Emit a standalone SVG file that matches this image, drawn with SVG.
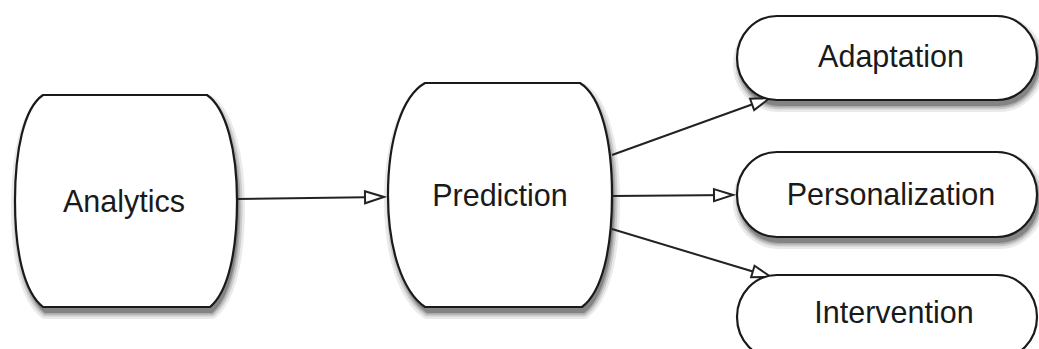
<svg xmlns="http://www.w3.org/2000/svg" width="1039" height="349" viewBox="0 0 1039 349">
<style>
.node{fill:#fff;stroke:#1a1a1a;stroke-width:2.2}
.s1{fill:#000;stroke:#000;stroke-width:12;stroke-linejoin:round;opacity:0.08}
.s2{fill:#000;stroke:#000;stroke-width:7;stroke-linejoin:round;opacity:0.12}
.s3{fill:#000;stroke:#000;stroke-width:3;stroke-linejoin:round;opacity:0.16}
.s4{fill:#000;opacity:0.22}
.lbl{font-family:"Liberation Sans",Arial,sans-serif;font-size:30.5px;fill:#1a1a1a;text-anchor:middle}
.edge{stroke:#222;stroke-width:2;fill:none;marker-end:url(#arr)}
</style>
<defs>
<marker id="arr" markerWidth="24" markerHeight="18" refX="21" refY="8" orient="auto" markerUnits="userSpaceOnUse">
<path d="M2,2 L21,8 L2,14 Z" fill="#fff" stroke="#222" stroke-width="2"/>
</marker>
</defs>
<rect width="1039" height="349" fill="#fff"/>
<g id="shadows" transform="translate(2,6)">
<path class="s1" d="M43,95 H207 C226,108 237,150 237,201 C237,252 228,292 210,307 H43 C24,292 15,252 15,201 C15,150 24,108 43,95 Z"/>
<path class="s2" d="M43,95 H207 C226,108 237,150 237,201 C237,252 228,292 210,307 H43 C24,292 15,252 15,201 C15,150 24,108 43,95 Z"/>
<path class="s3" d="M43,95 H207 C226,108 237,150 237,201 C237,252 228,292 210,307 H43 C24,292 15,252 15,201 C15,150 24,108 43,95 Z"/>
<path class="s4" d="M43,95 H207 C226,108 237,150 237,201 C237,252 228,292 210,307 H43 C24,292 15,252 15,201 C15,150 24,108 43,95 Z"/>
<path class="s1" d="M425,83 H580 C601,96 612,140 612,195 C612,250 602,292 582,307 H425 C403,292 388,250 388,195 C388,140 402,96 425,83 Z"/>
<path class="s2" d="M425,83 H580 C601,96 612,140 612,195 C612,250 602,292 582,307 H425 C403,292 388,250 388,195 C388,140 402,96 425,83 Z"/>
<path class="s3" d="M425,83 H580 C601,96 612,140 612,195 C612,250 602,292 582,307 H425 C403,292 388,250 388,195 C388,140 402,96 425,83 Z"/>
<path class="s4" d="M425,83 H580 C601,96 612,140 612,195 C612,250 602,292 582,307 H425 C403,292 388,250 388,195 C388,140 402,96 425,83 Z"/>
<rect class="s1" x="737" y="16" width="300" height="84" rx="40" ry="42"/>
<rect class="s2" x="737" y="16" width="300" height="84" rx="40" ry="42"/>
<rect class="s3" x="737" y="16" width="300" height="84" rx="40" ry="42"/>
<rect class="s4" x="737" y="16" width="300" height="84" rx="40" ry="42"/>
<rect class="s1" x="737" y="152" width="300" height="85" rx="40" ry="42"/>
<rect class="s2" x="737" y="152" width="300" height="85" rx="40" ry="42"/>
<rect class="s3" x="737" y="152" width="300" height="85" rx="40" ry="42"/>
<rect class="s4" x="737" y="152" width="300" height="85" rx="40" ry="42"/>
</g>
<g id="edges">
<path class="edge" d="M237,199 L384,197"/>
<path class="edge" d="M612,155 L770,98"/>
<path class="edge" d="M612,196 L733,195"/>
<path class="edge" d="M612,229 L771,277"/>
</g>
<g id="analytics">
<path class="node" d="M43,95 H207 C226,108 237,150 237,201 C237,252 228,292 210,307 H43 C24,292 15,252 15,201 C15,150 24,108 43,95 Z"/>
<text class="lbl" x="124" y="212">Analytics</text>
</g>
<g id="prediction">
<path class="node" d="M425,83 H580 C601,96 612,140 612,195 C612,250 602,292 582,307 H425 C403,292 388,250 388,195 C388,140 402,96 425,83 Z"/>
<text class="lbl" x="500" y="206">Prediction</text>
</g>
<g id="adaptation">
<rect class="node" x="737" y="16" width="300" height="84" rx="40" ry="42"/>
<text class="lbl" x="891" y="67">Adaptation</text>
</g>
<g id="personalization">
<rect class="node" x="737" y="152" width="300" height="85" rx="40" ry="42"/>
<text class="lbl" x="891" y="205">Personalization</text>
</g>
<g id="intervention">
<rect class="node" x="737" y="275" width="300" height="84" rx="40" ry="42"/>
<text class="lbl" x="894" y="323">Intervention</text>
</g>
</svg>
